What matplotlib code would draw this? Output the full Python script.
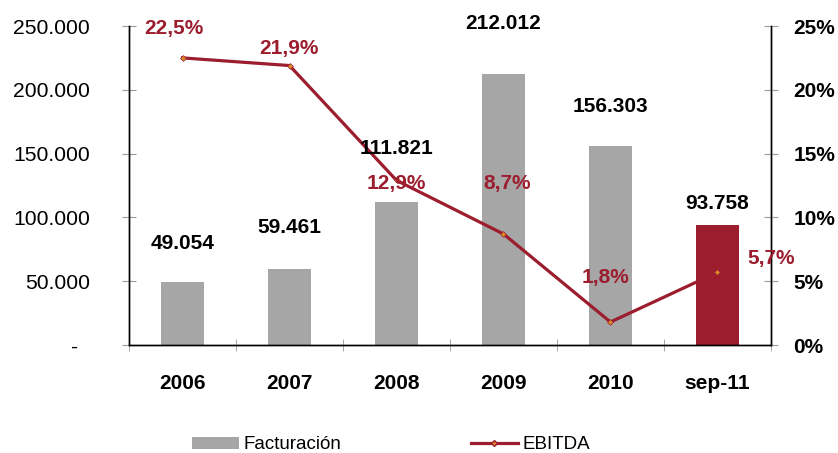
import numpy as np
import matplotlib.pyplot as plt
from matplotlib.patches import Patch
from matplotlib.lines import Line2D
from matplotlib.ticker import FuncFormatter, FixedLocator

# data
categories = ['2006', '2007', '2008', '2009', '2010', 'sep-11']
facturacion = [49054, 59461, 111821, 212012, 156303, 93758]
ebitda_pct = [22.5, 21.9, 12.9, 8.7, 1.8, 5.7]

# label placement (pixel offsets from the mark)
bar_label_dy = [39, 42, 54, 51, 39, 22]
pct_label_off = [(-9, 29), (-1, 17), (0, -3), (4, 50), (-5, 45), (54, 14)]

gray = '#A6A6A6'
red = '#9B1D2E'

plt.rcParams['font.family'] = ['Liberation Sans', 'DejaVu Sans']

fig = plt.figure(figsize=(8.38, 4.53), dpi=100)
ax = fig.add_axes([0.154, 0.2384, 0.766, 0.7042])
ax2 = ax.twinx()

x = np.arange(len(categories))
colors = [gray] * (len(categories) - 1) + [red]
ax.bar(x, facturacion, width=0.4, color=colors, zorder=2)

ax.set_xlim(-0.5, len(categories) - 0.5)
ax.set_ylim(0, 250000)
ax.set_yticks(np.arange(0, 250001, 50000))
ax.yaxis.set_major_formatter(FuncFormatter(
    lambda v, p: '-  ' if v == 0 else f'{int(v):,}'.replace(',', '.')))

ax2.set_ylim(0, 25)
ax2.set_yticks(np.arange(0, 26, 5))
ax2.yaxis.set_major_formatter(FuncFormatter(lambda v, p: f'{int(v)}%'))

ax2.plot(x, ebitda_pct, color=red, lw=2.3, marker='D', markersize=3,
         markerfacecolor='#D98A2B', markeredgecolor=red, markeredgewidth=0.5,
         zorder=3)

# category ticks between bars
ax.set_xticks(x)
ax.set_xticklabels(categories, fontsize=15, fontweight='bold')
ax.tick_params(axis='x', which='major', length=0, pad=21)
ax.xaxis.set_minor_locator(FixedLocator(np.arange(-0.5, len(categories), 1)))
ax.tick_params(axis='x', which='minor', direction='inout', length=9,
               color='#999999')

ax.tick_params(axis='y', direction='inout', length=10, color='#999999',
               labelsize=15.2, pad=23)
ax2.tick_params(axis='y', direction='inout', length=10, color='#999999',
                labelsize=15, pad=11)
for t in ax2.get_yticklabels():
    t.set_fontweight('bold')

for a in (ax, ax2):
    a.spines['top'].set_visible(False)
    for s in ('left', 'right', 'bottom'):
        a.spines[s].set_linewidth(1.0)
        a.spines[s].set_color('black')

# value labels
for i, v in enumerate(facturacion):
    ax2.annotate(f'{v:,}'.replace(',', '.'), xy=(x[i], v), xycoords=ax.transData,
                 xytext=(0, bar_label_dy[i]), textcoords='offset pixels',
                 ha='center', va='center', fontsize=15, fontweight='bold',
                 color='black', zorder=5)

for i, v in enumerate(ebitda_pct):
    dx, dy = pct_label_off[i]
    ax2.annotate(f'{v:.1f}%'.replace('.', ','), xy=(x[i], v),
                 xytext=(dx, dy), textcoords='offset pixels',
                 ha='center', va='center', fontsize=15, fontweight='bold',
                 color=red, zorder=5)

handles = [Patch(facecolor=gray, edgecolor='none'),
           Line2D([0], [0], color=red, lw=2.3, marker='D', markersize=3,
                  markerfacecolor='#D98A2B', markeredgecolor=red)]
fig.legend(handles, ['Facturación', 'EBITDA'], loc='center left',
           bbox_to_anchor=(0.209, 0.018), ncol=2, frameon=False, fontsize=13.5,
           handlelength=2.5, handleheight=0.6, handletextpad=0.25,
           columnspacing=6.9)

fig.savefig('out.png', dpi=100)
